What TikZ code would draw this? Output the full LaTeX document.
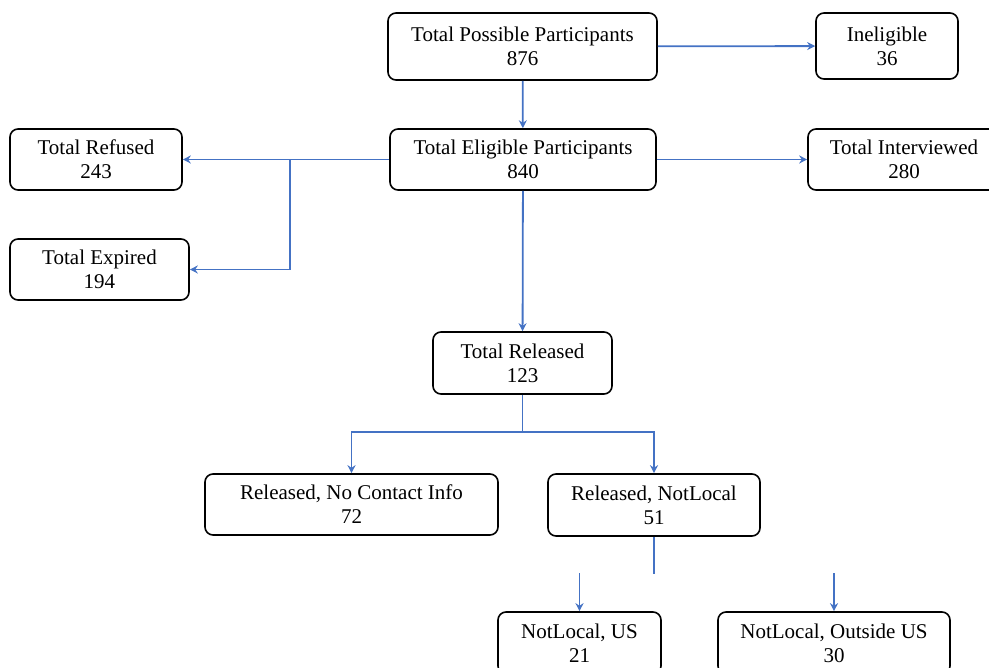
\documentclass[tikz,border=0pt]{standalone}
\usepackage{fontspec}
\setmainfont{Liberation Serif}
\usetikzlibrary{arrows.meta}

\definecolor{linkblue}{HTML}{4472C4}

\begin{document}
\begin{tikzpicture}[
    x=1pt, y=-1pt,
    box/.style={rectangle, draw, line width=1.6pt, rounded corners=8pt, align=center, inner sep=0pt,
                font=\fontsize{21}{24}\selectfont},
    link/.style={draw=linkblue, line width=1.8pt},
    arr/.style={link, -{Stealth[length=8pt, width=8pt]}},
]
\useasboundingbox (0,0) rectangle (989,668);

% Nodes
\node [box, minimum width=269pt, minimum height=67pt] (possible) at (522.5,46.5) {Total Possible Participants \\ 876};
\node [box, minimum width=142pt, minimum height=66pt] (inelig) at (887,46) {Ineligible \\ 36};
\node [box, minimum width=266pt, minimum height=61pt] (elig) at (523,159.5) {Total Eligible Participants \\ 840};
\node [box, minimum width=192pt, minimum height=61pt] (interv) at (904,159.5) {Total Interviewed \\ 280};
\node [box, minimum width=172pt, minimum height=61pt] (refused) at (96,159.5) {Total Refused \\ 243};
\node [box, minimum width=179pt, minimum height=61pt] (expired) at (99.5,269.5) {Total Expired \\ 194};
\node [box, minimum width=179pt, minimum height=62pt] (released) at (522.5,363) {Total Released \\ 123};
\node [box, minimum width=293pt, minimum height=61pt] (nocontact) at (351.5,504.5) {Released, No Contact Info \\ 72};
\node [box, minimum width=212pt, minimum height=62pt] (notlocal) at (654,505) {Released, NotLocal \\ 51};
\node [box, minimum width=163pt, minimum height=62pt] (us) at (579.5,643) {NotLocal, US \\ 21};
\node [box, minimum width=232pt, minimum height=62pt] (outside) at (834,643) {NotLocal, Outside US \\ 30};

\coordinate (split) at (290,159.5);
\coordinate (rsplit) at (522.5,432);
\coordinate (nlend) at (654,574);
\coordinate (usstart) at (579.5,573);
\coordinate (outstart) at (834,573);

% Lines
\draw [arr] (possible) -- (elig);
\draw [arr] (possible) -- (inelig);
\draw [arr] (elig) -- (interv);
\draw [arr] (elig) -- (refused);
\draw [arr] (split) |- (expired.east);
\draw [arr] (elig) -- (released);
\draw [link] (released) -- (rsplit);
\draw [arr] (rsplit) -| (nocontact.north);
\draw [arr] (rsplit) -| (notlocal.north);
\draw [link] (notlocal) -- (nlend);
\draw [arr] (usstart) -- (us);
\draw [arr] (outstart) -- (outside);

\end{tikzpicture}
\end{document}
